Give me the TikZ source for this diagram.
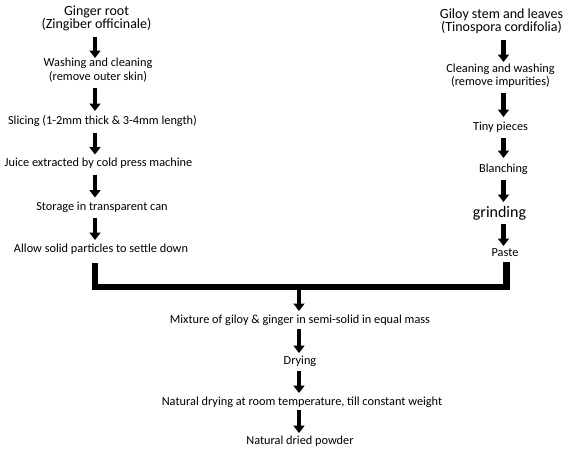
\documentclass[tikz,border=0pt]{standalone}
\usepackage{fontspec}
\setmainfont{Carlito}
\usetikzlibrary{arrows.meta}
\begin{document}
\begin{tikzpicture}[x=1pt,y=-1pt,
  txt/.style={inner sep=0pt, align=center, font=\fontsize{12.3}{13.5}\selectfont},
  head/.style={inner sep=0pt, align=center, font=\fontsize{14}{13.5}\selectfont},
  arr/.style={line width=4.5pt, -{Triangle[width=11pt,length=7.5pt]}, shorten <=11pt, shorten >=10pt},
  bar/.style={line width=6.5pt, line join=miter}]
\useasboundingbox (0,0) rectangle (571,459);
\fill[white] (0,0) rectangle (571,459);
% column positions
\coordinate (xL) at (95,0);
\coordinate (xR) at (503.5,0);
\coordinate (xM) at (299,0);
% left column
\node[head] (g1) at (96.5,18.5) {Ginger root\\(Zingiber officinale)};
\node[txt] (g2) at (98,70) {Washing and cleaning\\(remove outer skin)};
\node[txt] (g3) at (102.5,121) {Slicing (1-2mm thick \& 3-4mm length)};
\node[txt] (g4) at (98.5,163.5) {Juice extracted by cold press machine};
\node[txt] (g5) at (102,207.5) {Storage in transparent can};
\node[txt] (g6) at (101,249) {Allow solid particles to settle down};
% right column
\node[head] (t1) at (501.5,21.5) {Giloy stem and leaves\\(Tinospora cordifolia)};
\node[txt] (t2) at (500.5,75.5) {Cleaning and washing\\(remove impurities)};
\node[txt] (t3) at (500.5,127) {Tiny pieces};
\node[txt] (t4) at (503.5,169) {Blanching};
\node[txt, font=\fontsize{16}{18}\selectfont] (t5) at (499.5,213) {grinding};
\node[txt] (t6) at (505,253) {Paste};
% bottom
\node[txt] (m1) at (300,320) {Mixture of giloy \& ginger in semi-solid in equal mass};
\node[txt] (m2) at (300,361) {Drying};
\node[txt] (m3) at (302,402) {Natural drying at room temperature, till constant weight};
\node[txt] (m4) at (300,441) {Natural dried powder};
% junction
\coordinate (jl) at (95,287);
\coordinate (jr) at (506.5,287);
\coordinate (jm) at (299,287);
% left arrows
\draw[arr, shorten <=18.5pt, shorten >=12pt] (g1.center -| xL) -- (g2.center -| xL);
\draw[arr, shorten <=18pt] (g2.center -| xL) -- (g3.center -| xL);
\draw[arr, shorten <=12pt, shorten >=9pt] (g3.center -| xL) -- (g4.center -| xL);
\draw[arr] (g4.center -| xL) -- (g5.center -| xL);
\draw[arr, shorten <=10pt, shorten >=9pt] (g5.center -| xL) -- (g6.center -| xL);
% right arrows
\draw[arr, shorten <=18.5pt, shorten >=13.5pt] (t1.center -| xR) -- (t2.center -| xR);
\draw[arr, shorten <=17.5pt] (t2.center -| xR) -- (t3.center -| xR);
\draw[arr, shorten >=11pt] (t3.center -| xR) -- (t4.center -| xR);
\draw[arr, shorten >=11pt] (t4.center -| xR) -- (t5.center -| xR);
\draw[arr, shorten >=7pt] (t5.center -| xR) -- (t6.center -| xR);
% joining bar
\draw[bar, shorten <=14pt, shorten >=9pt] (g6.center -| jl) -- (jl) -- (jr) -- (t6.center -| jr);
% bottom arrows
\draw[arr, shorten <=3pt, shorten >=9pt] (jm) -- (m1.center -| xM);
\draw[arr, shorten <=9pt, shorten >=8pt] (m1.center -| xM) -- (m2.center -| xM);
\draw[arr, shorten <=10pt, shorten >=9pt] (m2.center -| xM) -- (m3.center -| xM);
\draw[arr, shorten <=8pt, shorten >=8pt] (m3.center -| xM) -- (m4.center -| xM);
\end{tikzpicture}
\end{document}
